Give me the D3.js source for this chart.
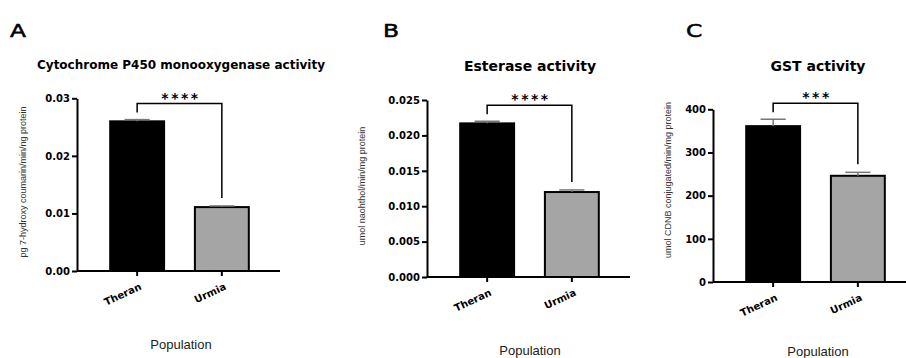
<!DOCTYPE html>
<html>
<head>
<meta charset="utf-8">
<script src="https://cdn.jsdelivr.net/npm/d3@7"></script>
<style>
  body { margin: 0; background: #fff; }
</style>
</head>
<body>
<script>
// data
const categories = ["Theran", "Urmia"]
const panelLetters = ["A", "B", "C"]
const titles = ["Cytochrome P450 monooxygenase activity", "Esterase activity", "GST activity"]
const yLabels = [
    "pg 7-hydroxy coumarin/min/ng protein",
    "umol naohthol/min/mg protein",
    "umol CDNB conjugated/min/mg protein"
]
const p450Mean = [0.0260, 0.0111]
const p450Sem = [0.0003, 0.0002]
const esteraseMean = [0.0217, 0.0120]
const esteraseSem = [0.0003, 0.0003]
const gstMean = [361, 246]
const gstSem = [16, 8]
const p450Ticks = [0, 0.01, 0.02, 0.03]
const esteraseTicks = [0, 0.005, 0.010, 0.015, 0.020, 0.025]
const gstTicks = [0, 100, 200, 300, 400]
const stars = ["****", "****", "***"]
const xTitle = "Population"

const means = [p450Mean, esteraseMean, gstMean]
const sems = [p450Sem, esteraseSem, gstSem]
const ticks = [p450Ticks, esteraseTicks, gstTicks]
const formats = [d3.format(".2f"), d3.format(".3f"), d3.format("d")]
const barColors = ["#000", "#a5a5a5"]

// layout of each panel
const lay = [
    { x0: 77, yZero: 271, yTop: 98.3, letterX: 10, cx: 181, labX: 23, labY: 182, popY: 349, titleY: 69, titleSize: 12 },
    { x0: 427, yZero: 277, yTop: 100, letterX: 383, cx: 530, labX: 362, labY: 186, popY: 355, titleY: 71, titleSize: 14 },
    { x0: 713, yZero: 282, yTop: 109.3, letterX: 686, cx: 818, labX: 668, labY: 180, popY: 356, titleY: 71, titleSize: 14 }
]

const W = 906, H = 358
const bold = "DejaVu Sans, sans-serif"
const plain = "Liberation Sans, Arial, sans-serif"

const svg = d3.select("body").append("svg")
    .attr("width", W)
    .attr("height", H)

lay.forEach(function(p, i) {
    const g = svg.append("g")

    const x = d3.scaleBand()
        .domain(categories)
        .range([p.x0, p.x0 + 205])
        .paddingInner(0.34)
        .paddingOuter(0.38)

    const y = d3.scaleLinear()
        .domain(d3.extent(ticks[i]))
        .range([p.yZero, p.yTop])

    const rows = categories.map(function(c, j) {
        return { cat: c, mean: means[i][j], sem: sems[i][j], color: barColors[j] }
    })

    // panel letter + title
    g.append("text")
        .attr("transform", "translate(" + p.letterX + ",37) scale(1.3,1)")
        .style("font-family", bold)
        .style("font-size", "18px")
        .attr("stroke", "#000")
        .attr("stroke-width", 0.5)
        .text(panelLetters[i])

    g.append("text")
        .attr("x", p.cx)
        .attr("y", p.titleY)
        .attr("text-anchor", "middle")
        .style("font-family", bold)
        .style("font-size", p.titleSize + "px")
        .style("font-weight", "bold")
        .text(titles[i])

    // bars
    g.selectAll(".bar")
        .data(rows)
        .enter()
        .append("rect")
            .attr("x", d => x(d.cat) + 1)
            .attr("y", d => y(d.mean))
            .attr("width", x.bandwidth() - 2)
            .attr("height", d => y(0) - y(d.mean))
            .attr("fill", d => d.color)
            .attr("stroke", "#000")
            .attr("stroke-width", 2)

    // error bars (upper only)
    const cap = x.bandwidth() * 0.45
    rows.forEach(function(d) {
        const cx = x(d.cat) + x.bandwidth() / 2
        g.append("line")
            .attr("x1", cx).attr("x2", cx)
            .attr("y1", y(d.mean)).attr("y2", y(d.mean + d.sem))
            .attr("stroke", "#777").attr("stroke-width", 1.5)
        g.append("line")
            .attr("x1", cx - cap / 2).attr("x2", cx + cap / 2)
            .attr("y1", y(d.mean + d.sem)).attr("y2", y(d.mean + d.sem))
            .attr("stroke", "#777").attr("stroke-width", 1.5)
    })

    // y axis
    const yAxis = g.append("g")
        .attr("transform", "translate(" + p.x0 + ",0)")
        .call(d3.axisLeft(y).tickValues(ticks[i]).tickFormat(formats[i]).tickSize(5).tickPadding(2).tickSizeOuter(0))
    yAxis.select(".domain").attr("stroke-width", 2)
    yAxis.selectAll(".tick line").attr("stroke-width", 2)
    yAxis.selectAll(".tick text")
        .style("font-family", bold)
        .style("font-size", "10px")
        .style("font-weight", "bold")
        .attr("fill", "#000")

    // x axis
    const xAxis = g.append("g")
        .attr("transform", "translate(0," + p.yZero + ")")
        .call(d3.axisBottom(x).tickSize(5).tickSizeOuter(0))
    xAxis.select(".domain")
        .attr("d", "M" + p.x0 + ",0H" + (p.x0 + 203))
        .attr("stroke-width", 2)
    xAxis.selectAll(".tick line").attr("stroke-width", 2)
    xAxis.selectAll(".tick text")
        .style("font-family", bold)
        .style("font-size", "10px")
        .style("font-weight", "bold")
        .attr("fill", "#000")
        .attr("text-anchor", "end")
        .attr("dy", null)
        .attr("y", 0)
        .attr("transform", "translate(5,18) rotate(-25)")

    // significance bracket
    const tops = rows.map(d => y(d.mean + d.sem))
    const by = Math.min(tops[0], tops[1]) - 16
    const c0 = x(categories[0]) + x.bandwidth() / 2
    const c1 = x(categories[1]) + x.bandwidth() / 2
    g.append("path")
        .attr("d", "M" + c0 + "," + (tops[0] - 7) + "V" + by + "H" + c1 + "V" + (tops[1] - 8))
        .attr("fill", "none")
        .attr("stroke", "#000")
        .attr("stroke-width", 1.5)
    g.append("text")
        .attr("x", (c0 + c1) / 2 + 1.5)
        .attr("y", by - 1)
        .attr("text-anchor", "middle")
        .style("font-family", bold)
        .style("font-size", "14px")
        .style("font-weight", "bold")
        .attr("letter-spacing", 2.5)
        .text(stars[i])

    // axis titles
    g.append("text")
        .attr("transform", "translate(" + p.labX + "," + p.labY + ") rotate(-90)")
        .attr("text-anchor", "middle")
        .attr("dy", "0.35em")
        .style("font-family", plain)
        .style("font-size", "9px")
        .attr("fill", "#333")
        .text(yLabels[i])

    g.append("text")
        .attr("x", p.cx)
        .attr("y", p.popY)
        .attr("text-anchor", "middle")
        .style("font-family", plain)
        .style("font-size", "13px")
        .attr("fill", "#222")
        .text(xTitle)
})
</script>
</body>
</html>
